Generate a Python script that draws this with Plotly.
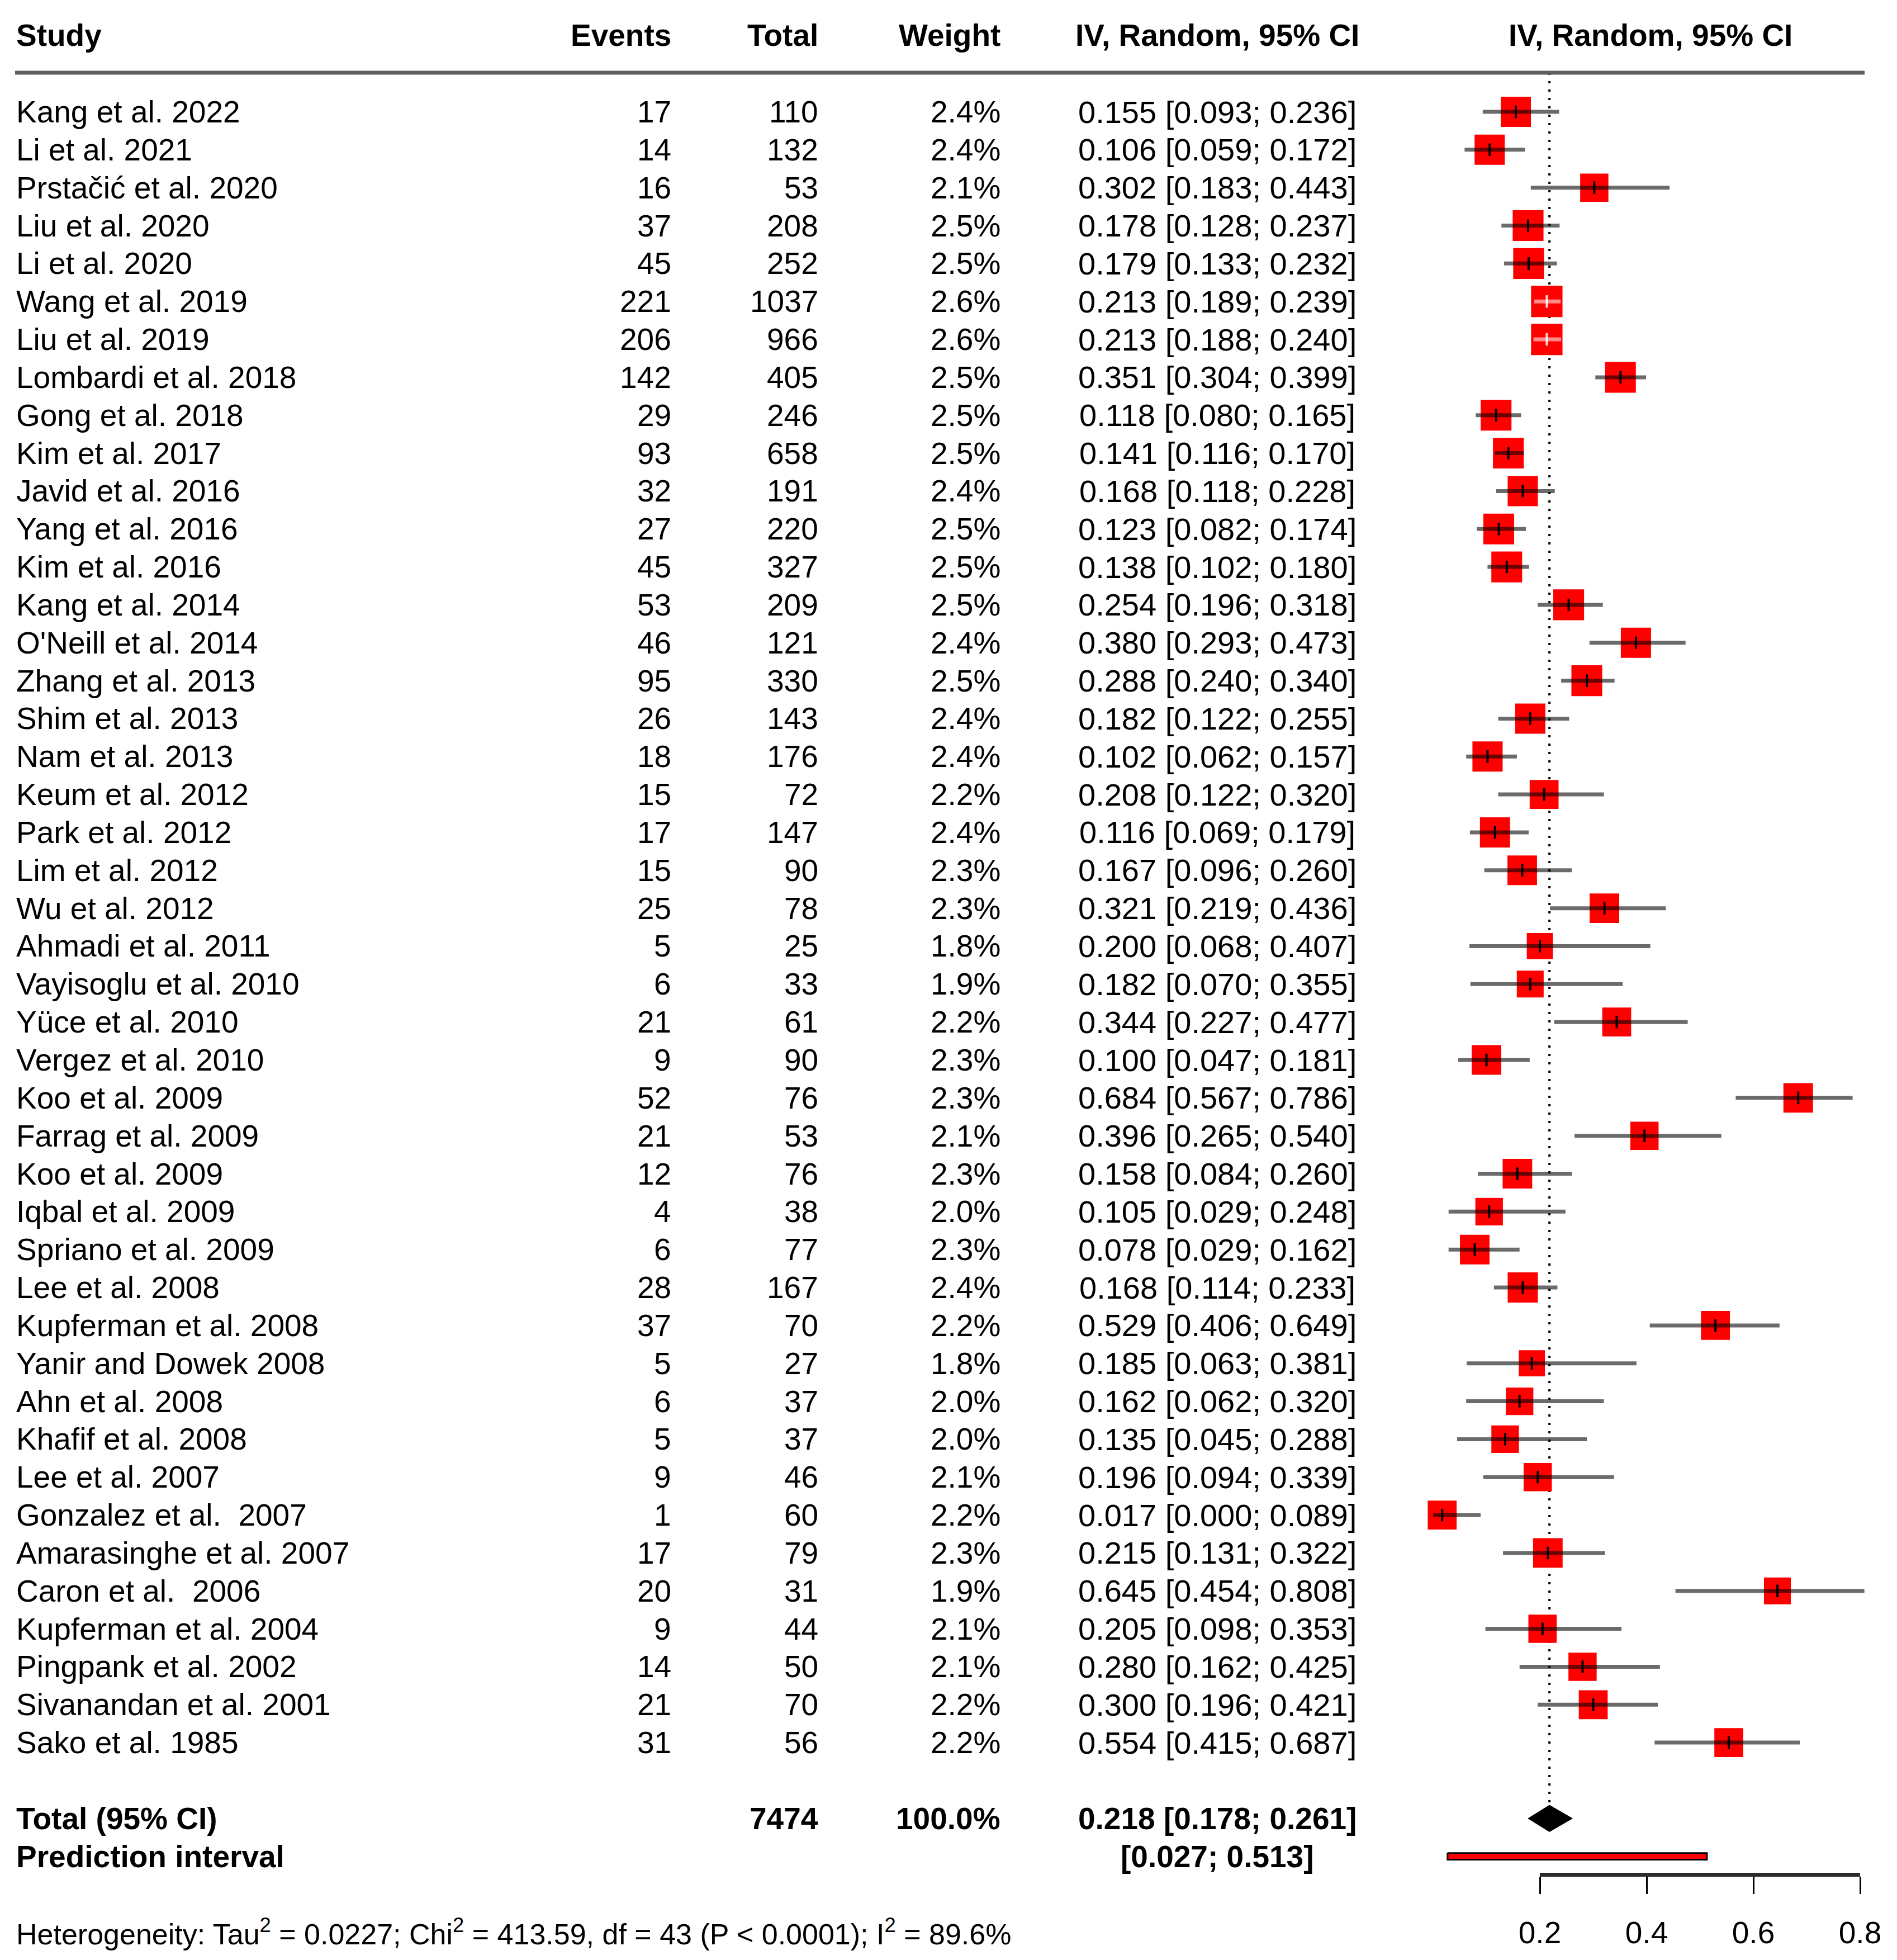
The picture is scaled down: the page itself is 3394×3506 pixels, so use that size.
import plotly.graph_objects as go

# ---- data ----
studies = [
    "Kang et al. 2022", "Li et al. 2021", "Prstačić et al. 2020", "Liu et al. 2020",
    "Li et al. 2020", "Wang et al. 2019", "Liu et al. 2019", "Lombardi et al. 2018",
    "Gong et al. 2018", "Kim et al. 2017", "Javid et al. 2016", "Yang et al. 2016",
    "Kim et al. 2016", "Kang et al. 2014", "O'Neill et al. 2014", "Zhang et al. 2013",
    "Shim et al. 2013", "Nam et al. 2013", "Keum et al. 2012", "Park et al. 2012",
    "Lim et al. 2012", "Wu et al. 2012", "Ahmadi et al. 2011", "Vayisoglu et al. 2010",
    "Yüce et al. 2010", "Vergez et al. 2010", "Koo et al. 2009", "Farrag et al. 2009",
    "Koo et al. 2009", "Iqbal et al. 2009", "Spriano et al. 2009", "Lee et al. 2008",
    "Kupferman et al. 2008", "Yanir and Dowek 2008", "Ahn et al. 2008", "Khafif et al. 2008",
    "Lee et al. 2007", "Gonzalez et al.\u00a0 2007", "Amarasinghe et al. 2007",
    "Caron et al.\u00a0 2006", "Kupferman et al. 2004", "Pingpank et al. 2002",
    "Sivanandan et al. 2001", "Sako et al. 1985",
]
events = [17, 14, 16, 37, 45, 221, 206, 142, 29, 93, 32, 27, 45, 53, 46, 95, 26, 18, 15, 17,
          15, 25, 5, 6, 21, 9, 52, 21, 12, 4, 6, 28, 37, 5, 6, 5, 9, 1, 17, 20, 9, 14, 21, 31]
totals = [110, 132, 53, 208, 252, 1037, 966, 405, 246, 658, 191, 220, 327, 209, 121, 330, 143,
          176, 72, 147, 90, 78, 25, 33, 61, 90, 76, 53, 76, 38, 77, 167, 70, 27, 37, 37, 46, 60,
          79, 31, 44, 50, 70, 56]
weights = [2.4, 2.4, 2.1, 2.5, 2.5, 2.6, 2.6, 2.5, 2.5, 2.5, 2.4, 2.5, 2.5, 2.5, 2.4, 2.5, 2.4,
           2.4, 2.2, 2.4, 2.3, 2.3, 1.8, 1.9, 2.2, 2.3, 2.3, 2.1, 2.3, 2.0, 2.3, 2.4, 2.2, 1.8,
           2.0, 2.0, 2.1, 2.2, 2.3, 1.9, 2.1, 2.1, 2.2, 2.2]
est = [0.155, 0.106, 0.302, 0.178, 0.179, 0.213, 0.213, 0.351, 0.118, 0.141, 0.168, 0.123,
       0.138, 0.254, 0.380, 0.288, 0.182, 0.102, 0.208, 0.116, 0.167, 0.321, 0.200, 0.182,
       0.344, 0.100, 0.684, 0.396, 0.158, 0.105, 0.078, 0.168, 0.529, 0.185, 0.162, 0.135,
       0.196, 0.017, 0.215, 0.645, 0.205, 0.280, 0.300, 0.554]
lower = [0.093, 0.059, 0.183, 0.128, 0.133, 0.189, 0.188, 0.304, 0.080, 0.116, 0.118, 0.082,
         0.102, 0.196, 0.293, 0.240, 0.122, 0.062, 0.122, 0.069, 0.096, 0.219, 0.068, 0.070,
         0.227, 0.047, 0.567, 0.265, 0.084, 0.029, 0.029, 0.114, 0.406, 0.063, 0.062, 0.045,
         0.094, 0.000, 0.131, 0.454, 0.098, 0.162, 0.196, 0.415]
upper = [0.236, 0.172, 0.443, 0.237, 0.232, 0.239, 0.240, 0.399, 0.165, 0.170, 0.228, 0.174,
         0.180, 0.318, 0.473, 0.340, 0.255, 0.157, 0.320, 0.179, 0.260, 0.436, 0.407, 0.355,
         0.477, 0.181, 0.786, 0.540, 0.260, 0.248, 0.162, 0.233, 0.649, 0.381, 0.320, 0.288,
         0.339, 0.089, 0.322, 0.808, 0.353, 0.425, 0.421, 0.687]

total_n = 7474
pooled = 0.218
pooled_lo, pooled_hi = 0.178, 0.261
pi_lo, pi_hi = 0.027, 0.513
axis_ticks = [0.2, 0.4, 0.6, 0.8]
heterogeneity = ("Heterogeneity: Tau<sup>2</sup> = 0.0227; Chi<sup>2</sup> = 413.59, "
                 "df = 43 (P < 0.0001); I<sup>2</sup> = 89.6%")

# ---- page geometry (pixels) ----
W, H = 3394, 3506
X0_PX, PX_PER_UNIT = 2564, 955          # forest scale: x=0 pixel and px per unit
ROW0_PX, ROW_PX = 200, 67.84            # first study row and row pitch
FONT = "Liberation Sans, Arial, Helvetica, sans-serif"
FS = 55

n = len(studies)
rows = list(range(n))
total_row = n + 1
pi_row = n + 2
axis_row = (3353 - ROW0_PX) / ROW_PX
het_row = 48
head_row = -2.02
rule_row = -1.03


def px(p):
    return p / W


fig = go.Figure()

# dotted line at pooled estimate
fig.add_trace(go.Scatter(
    x=[pooled, pooled], y=[rule_row, total_row - 0.35],
    mode="lines", line=dict(color="black", width=4, dash="4px,11px"),
    hoverinfo="skip", showlegend=False))

# squares, size ~ sqrt(weight)
sizes = [54 * (w / 2.4) ** 0.5 for w in weights]
fig.add_trace(go.Scatter(
    x=est, y=rows, mode="markers",
    marker=dict(symbol="square", size=sizes, color="#ff0000", opacity=1,
                line=dict(width=0)),
    hoverinfo="skip", showlegend=False))

# CI lines: white when the interval sits inside the box
dark_x, dark_y, light_x, light_y = [], [], [], []
tick_dark, tick_light = [], []
for i in rows:
    half = sizes[i] / 2 / PX_PER_UNIT
    inside = lower[i] > est[i] - half and upper[i] < est[i] + half
    if inside:
        light_x += [lower[i], upper[i], None]
        light_y += [i, i, None]
        tick_light.append(i)
    else:
        dark_x += [lower[i], upper[i], None]
        dark_y += [i, i, None]
        tick_dark.append(i)

fig.add_trace(go.Scatter(x=dark_x, y=dark_y, mode="lines",
                         line=dict(color="rgba(0,0,0,0.58)", width=7),
                         hoverinfo="skip", showlegend=False))
fig.add_trace(go.Scatter(x=light_x, y=light_y, mode="lines",
                         line=dict(color="rgba(255,255,255,0.55)", width=7),
                         hoverinfo="skip", showlegend=False))
fig.add_trace(go.Scatter(x=[est[i] for i in tick_dark], y=tick_dark, mode="markers",
                         marker=dict(symbol="line-ns", size=16, opacity=1,
                                     line=dict(color="black", width=4)),
                         hoverinfo="skip", showlegend=False))
fig.add_trace(go.Scatter(x=[est[i] for i in tick_light], y=tick_light, mode="markers",
                         marker=dict(symbol="line-ns", size=16, opacity=1,
                                     line=dict(color="rgba(255,255,255,0.85)", width=4)),
                         hoverinfo="skip", showlegend=False))

# pooled diamond
dh = 0.35
fig.add_trace(go.Scatter(
    x=[pooled_lo, pooled, pooled_hi, pooled, pooled_lo],
    y=[total_row, total_row - dh, total_row, total_row + dh, total_row],
    mode="lines", fill="toself", fillcolor="black", line=dict(color="black", width=1),
    hoverinfo="skip", showlegend=False))

# prediction interval bar
ph = 0.085
fig.add_trace(go.Scatter(
    x=[pi_lo, pi_hi, pi_hi, pi_lo, pi_lo],
    y=[pi_row - ph, pi_row - ph, pi_row + ph, pi_row + ph, pi_row - ph],
    mode="lines", fill="toself", fillcolor="#ff0000", line=dict(color="black", width=3),
    hoverinfo="skip", showlegend=False))

# invisible trace to carry the visible bottom axis
fig.add_trace(go.Scatter(x=axis_ticks, y=[axis_row] * len(axis_ticks), xaxis="x2",
                         mode="markers", marker=dict(opacity=0),
                         hoverinfo="skip", showlegend=False))

# ---- text columns ----
ann = []


def txt(s, xp, row, anchor, bold=False, size=FS):
    ann.append(dict(text=f"<b>{s}</b>" if bold else s, x=px(xp), y=row,
                    xref="paper", yref="y", xanchor=anchor, yanchor="middle",
                    showarrow=False, font=dict(family=FONT, size=size, color="black")))


COL_STUDY, COL_EVENTS, COL_TOTAL, COL_WEIGHT, COL_CI, COL_PLOT = 27, 1203, 1466, 1792, 2178, 2953

txt("Study", COL_STUDY, head_row, "left", True)
txt("Events", COL_EVENTS, head_row, "right", True)
txt("Total", COL_TOTAL, head_row, "right", True)
txt("Weight", COL_WEIGHT, head_row, "right", True)
txt("IV, Random, 95% CI", COL_CI, head_row, "center", True)
txt("IV, Random, 95% CI", COL_PLOT, head_row, "center", True)

for i in rows:
    txt(studies[i], COL_STUDY, i, "left")
    txt(str(events[i]), COL_EVENTS, i, "right")
    txt(str(totals[i]), COL_TOTAL, i, "right")
    txt(f"{weights[i]:.1f}%", COL_WEIGHT, i, "right")
    txt(f"{est[i]:.3f} [{lower[i]:.3f}; {upper[i]:.3f}]", COL_CI, i, "center", size=56)

txt("Total (95% CI)", COL_STUDY, total_row, "left", True)
txt(str(total_n), COL_TOTAL, total_row, "right", True)
txt("100.0%", COL_WEIGHT, total_row, "right", True)
txt(f"{pooled:.3f} [{pooled_lo:.3f}; {pooled_hi:.3f}]", COL_CI, total_row, "center", True)
txt("Prediction interval", COL_STUDY, pi_row, "left", True)
txt(f"[{pi_lo:.3f}; {pi_hi:.3f}]", COL_CI, pi_row, "center", True)
txt(heterogeneity, COL_STUDY, het_row, "left", size=52)

x_lo = -X0_PX / PX_PER_UNIT
x_hi = (W - X0_PX) / PX_PER_UNIT
y_top = -ROW0_PX / ROW_PX
y_bot = (H - ROW0_PX) / ROW_PX

fig.update_layout(
    width=W, height=H,
    margin=dict(l=0, r=0, t=0, b=0, pad=0, autoexpand=False),
    paper_bgcolor="white", plot_bgcolor="rgba(0,0,0,0)",
    font=dict(family=FONT, size=FS, color="black"),
    annotations=ann,
    shapes=[dict(type="line", xref="paper", yref="y", x0=px(27), x1=px(3336),
                 y0=rule_row, y1=rule_row, line=dict(color="#5e5e5e", width=7))],
    xaxis=dict(range=[x_lo, x_hi], domain=[0, 1], visible=False, fixedrange=True,
               automargin=False),
    xaxis2=dict(range=[axis_ticks[0], axis_ticks[-1]],
                domain=[px(X0_PX + axis_ticks[0] * PX_PER_UNIT),
                        px(X0_PX + axis_ticks[-1] * PX_PER_UNIT)],
                anchor="free", position=1 - 3353 / H, automargin=False,
                showline=True, linecolor="#2b2b2b", linewidth=7,
                ticks="outside", ticklen=31, tickwidth=3, tickcolor="black",
                tickvals=axis_ticks, ticktext=[f"{t:.1f}" for t in axis_ticks],
                tickfont=dict(family=FONT, size=FS, color="black"),
                ticklabelstandoff=22,
                showgrid=False, zeroline=False, fixedrange=True),
    yaxis=dict(range=[y_bot, y_top], domain=[0, 1], visible=False, fixedrange=True,
               automargin=False),
    showlegend=False,
)

fig.write_html("out.html", config={"displayModeBar": False},
               post_script="document.body.style.margin='0';")
